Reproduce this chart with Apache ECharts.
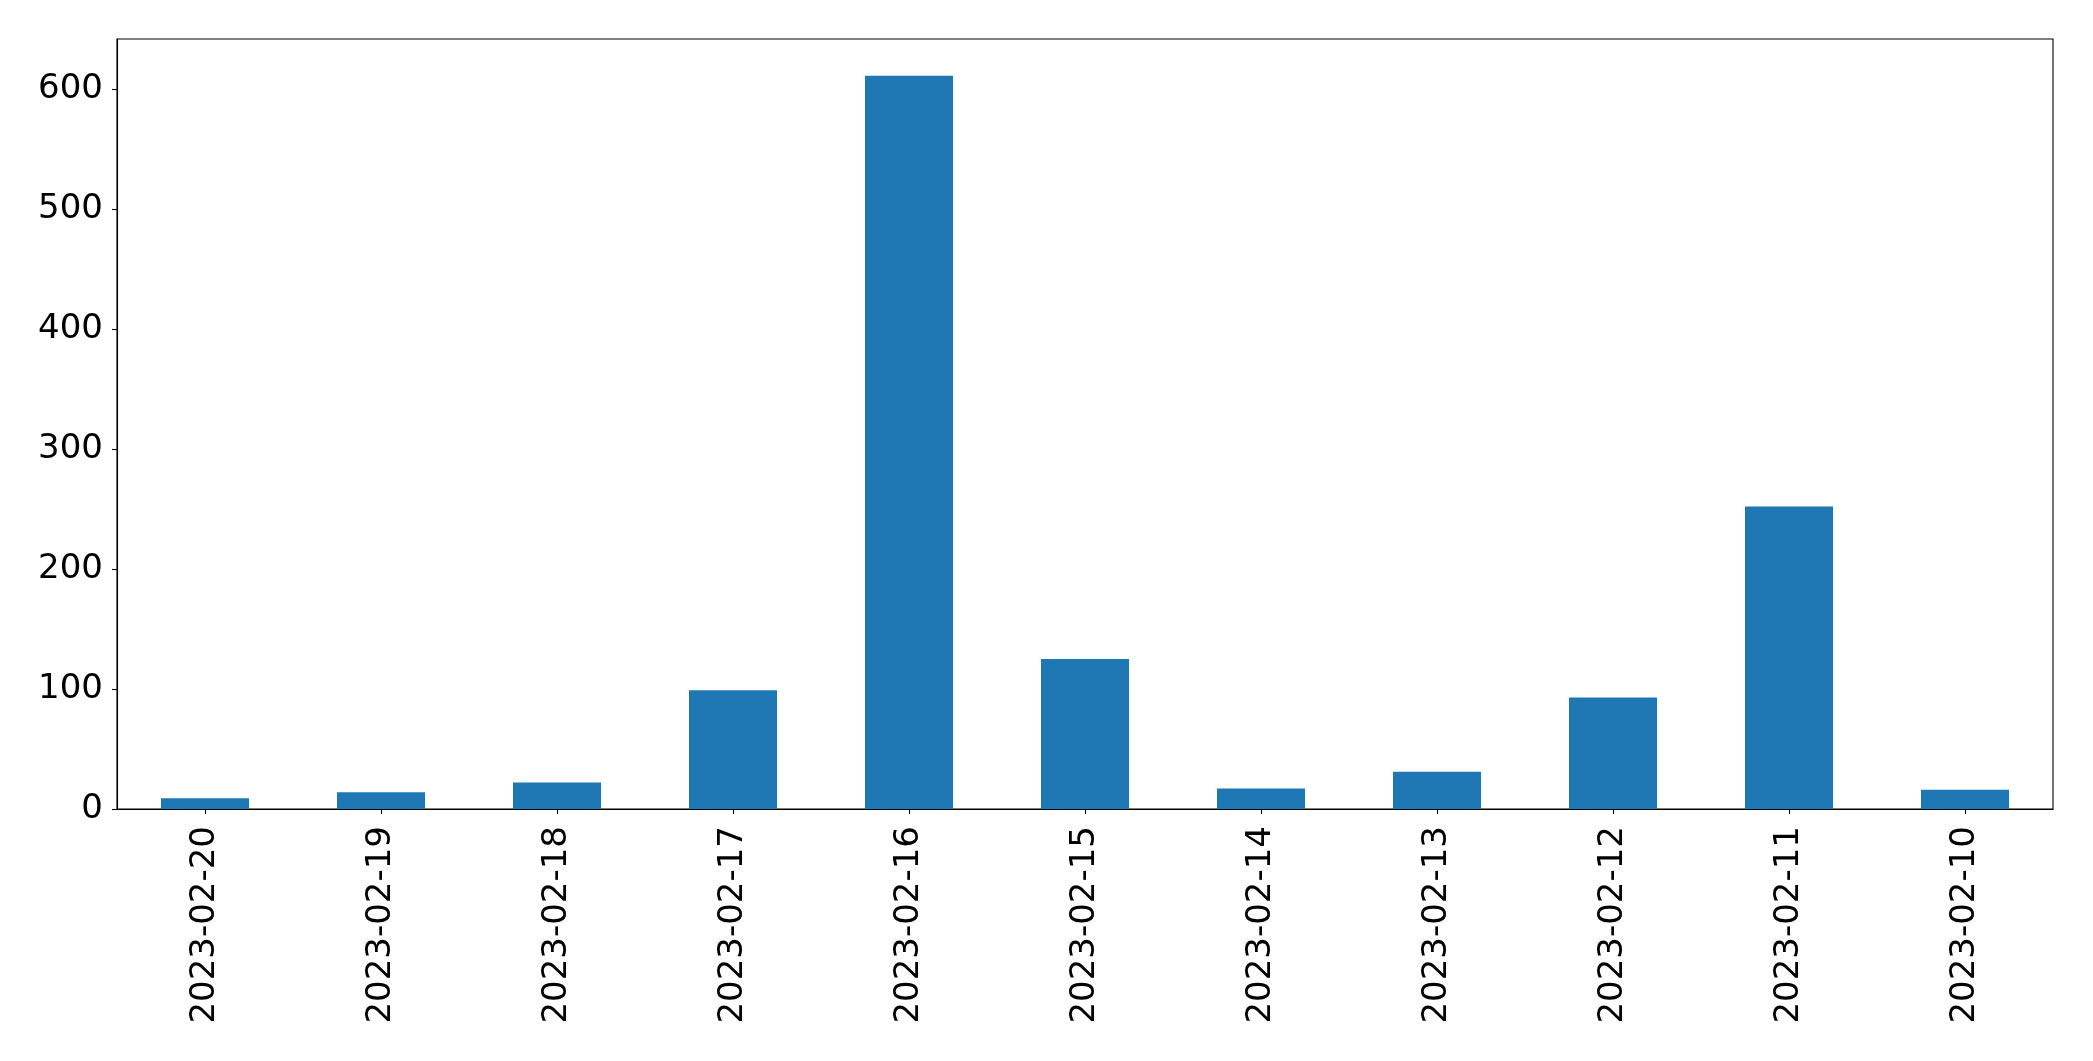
<!DOCTYPE html>
<html>
<head>
<meta charset="utf-8">
<style>
  html, body { margin: 0; padding: 0; background: #fff; }
  #chart { width: 2093px; height: 1061px; }
</style>
<script src="https://cdn.jsdelivr.net/npm/echarts@6/dist/echarts.min.js"></script>
</head>
<body>
<div id="chart"></div>
<script>
const categories = ['2023-02-20','2023-02-19','2023-02-18','2023-02-17','2023-02-16','2023-02-15','2023-02-14','2023-02-13','2023-02-12','2023-02-11','2023-02-10'];
const values = [9, 14, 22, 99, 611, 125, 17, 31, 93, 252, 16];
const yTicks = [0, 100, 200, 300, 400, 500, 600];
const yMax = 641.55;

const chart = echarts.init(document.getElementById('chart'), null, { renderer: 'canvas' });
const font = 'DejaVu Sans';
chart.setOption({
  animation: false,
  backgroundColor: '#ffffff',
  grid: {
    left: 117, right: 40, top: 39, bottom: 252,
    show: true, borderColor: '#000', borderWidth: 1.1, backgroundColor: 'transparent',
    containLabel: false
  },
  xAxis: {
    type: 'category',
    data: categories,
    axisLine: { show: true, lineStyle: { color: '#000', width: 1.1 } },
    axisTick: { show: true, alignWithLabel: true, length: 5, lineStyle: { color: '#000', width: 1.1 } },
    axisLabel: { rotate: 90, color: '#000', fontSize: 34, fontFamily: font, margin: 17, interval: 0 },
    splitLine: { show: false }
  },
  yAxis: {
    type: 'value',
    min: 0,
    max: yMax,
    axisLine: { show: true, lineStyle: { color: '#000', width: 1.1 } },
    axisTick: { show: true, length: 5, customValues: yTicks, lineStyle: { color: '#000', width: 1.1 } },
    axisLabel: { color: '#000', fontSize: 34, fontFamily: font, margin: 14, customValues: yTicks },
    splitLine: { show: false }
  },
  series: [{
    type: 'bar',
    data: values,
    barWidth: '50%',
    itemStyle: { color: '#1f77b4' }
  }]
});
</script>
</body>
</html>
